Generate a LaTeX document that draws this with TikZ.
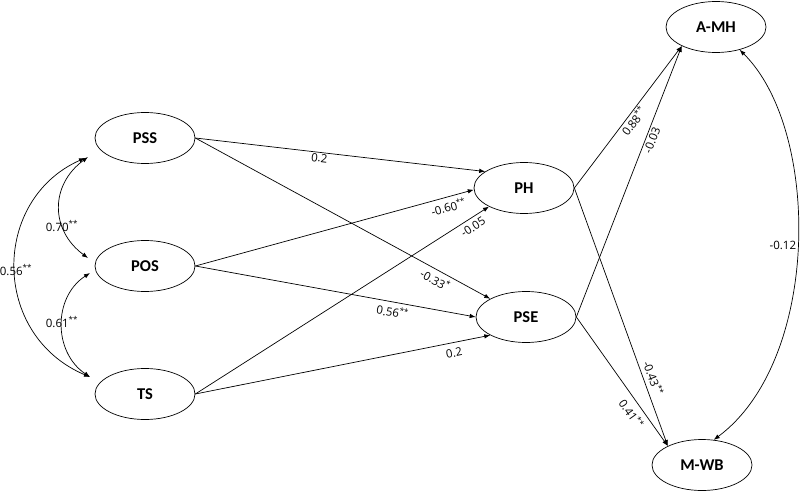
\documentclass[tikz,border=0pt]{standalone}
\usepackage{fontspec}
\setmainfont{Open Sans}
\newfontfamily\nodefont{Carlito}
\usetikzlibrary{shapes.geometric,arrows.meta}
\begin{document}
\begin{tikzpicture}[x=1pt,y=-1pt,
 var/.style={ellipse,draw,line width=0.7pt,minimum width=100pt,minimum height=51pt,inner sep=0pt,font=\nodefont\bfseries\fontsize{16.5}{18}\selectfont},
 arr/.style={line width=0.7pt,-{Latex[length=6pt,width=4.5pt]}},
 darr/.style={line width=0.7pt,{Latex[length=6pt,width=4.5pt]}-{Latex[length=6pt,width=4.5pt]}},
 lbl/.style={font=\fontsize{11.5}{13}\selectfont,inner sep=1pt}]
\useasboundingbox (0,0) rectangle (800,492);

\node[var] (PSS) at (145,138) {PSS};
\node[var] (POS) at (145,266) {POS};
\node[var] (TS)  at (145,394) {TS};
\node[var] (PH)  at (524,188) {PH};
\node[var] (PSE) at (526,317) {PSE};
\node[var] (AMH) at (716,27)  {A-MH};
\node[var] (MWB) at (702,465) {M-WB};

% covariance ends on the left
\coordinate (pssA) at (88,157);
\coordinate (posA) at (88,258);
\coordinate (posB) at (90,273);
\coordinate (tsA)  at (90,377);
\coordinate (pssB) at (85,158);

\draw[darr] (pssA) .. controls (50,185) and (50,230) .. (posA);
\draw[darr] (posB) .. controls (53,297) and (53,352) .. (tsA);
\draw[darr] (pssB) .. controls (-9,200) and (-9,335) .. (tsA);
\node[lbl] (l70) at (62,226) {0.70\textsuperscript{**}};
\node[lbl] (l56) at (16,270) {0.56\textsuperscript{**}};
\node[lbl] (l61) at (62,322) {0.61\textsuperscript{**}};

% paths
\draw[arr] (PSS.east) -- node[lbl,pos=0.43,sloped,below=0pt]{0.2} (PH.157);
\draw[arr] (PSS.east) -- node[lbl,pos=0.83,sloped,below=3pt]{-0.33\textsuperscript{*}} (PSE.153);
\draw[arr] (POS.east) -- node[lbl,pos=0.90,sloped,below=3pt]{-0.60\textsuperscript{**}} (PH.182);
\draw[arr] (POS.east) -- node[lbl,pos=0.71,sloped,below=3pt]{0.56\textsuperscript{**}} (PSE.west);
\draw[arr] (TS.east) -- node[lbl,pos=0.93,sloped,below=3pt]{-0.05} (PH.208);
\draw[arr] (TS.east) -- node[lbl,pos=0.87,sloped,below=5pt]{0.2} (PSE.207);

\draw[arr] (PH.east) -- node[lbl,pos=0.5,sloped,below=0pt]{0.88\textsuperscript{**}} (AMH.209);
\draw[arr] (PSE.east) -- node[lbl,pos=0.66,sloped,below=1pt]{-0.03} (AMH.209);
\draw[arr] (PH.east) -- node[lbl,pos=0.75,sloped,above=3pt]{-0.43\textsuperscript{**}} (MWB.151);
\draw[arr] (PSE.east) -- node[lbl,pos=0.70,sloped,below=4pt]{0.41\textsuperscript{**}} (MWB.151);

\draw[darr] (AMH.-44) .. controls (821,130) and (821,360) .. node[lbl,pos=0.5,left=0pt]{-0.12} (MWB.65);
\end{tikzpicture}
\end{document}
